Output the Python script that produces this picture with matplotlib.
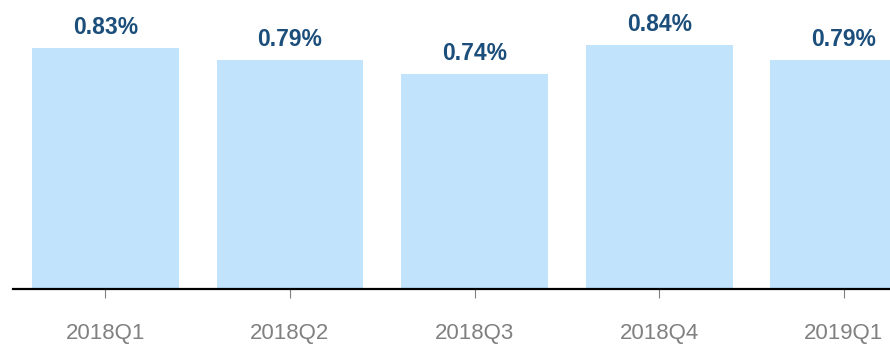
import matplotlib.pyplot as plt

plt.rcParams["font.family"] = ["Liberation Sans", "DejaVu Sans"]

# quarterly ratio values (%)
quarters = ["2018Q1", "2018Q2", "2018Q3", "2018Q4", "2019Q1"]
ratios = [0.83, 0.79, 0.74, 0.84, 0.79]

BAR_COLOR = "#C1E3FB"
LABEL_COLOR = "#1B4E7B"
TICK_COLOR = "#808080"

fig = plt.figure(figsize=(8.9, 3.47), dpi=100)
ax = fig.add_axes([13 / 890, (347 - 289) / 347, 877 / 890, 289 / 347])

x = range(len(quarters))
bars = ax.bar(x, ratios, width=0.795, color=BAR_COLOR)

for xi, v in zip(x, ratios):
    ax.text(xi, v + 0.03, f"{v:.2f}%", ha="center", va="bottom",
            fontsize=16.5, fontweight="bold", color=LABEL_COLOR)

ax.set_xlim(-0.5, 4.25)
ax.set_ylim(0, 0.995)
ax.set_xticks(list(x))
ax.set_xticklabels(quarters)
ax.tick_params(axis="x", length=6.5, width=0.8, color=TICK_COLOR,
               labelcolor=TICK_COLOR, labelsize=16, pad=18)
ax.set_yticks([])

for side in ["top", "right", "left"]:
    ax.spines[side].set_visible(False)
ax.spines["bottom"].set_linewidth(1.6)
ax.spines["bottom"].set_color("black")

fig.savefig("out.png", dpi=100)
